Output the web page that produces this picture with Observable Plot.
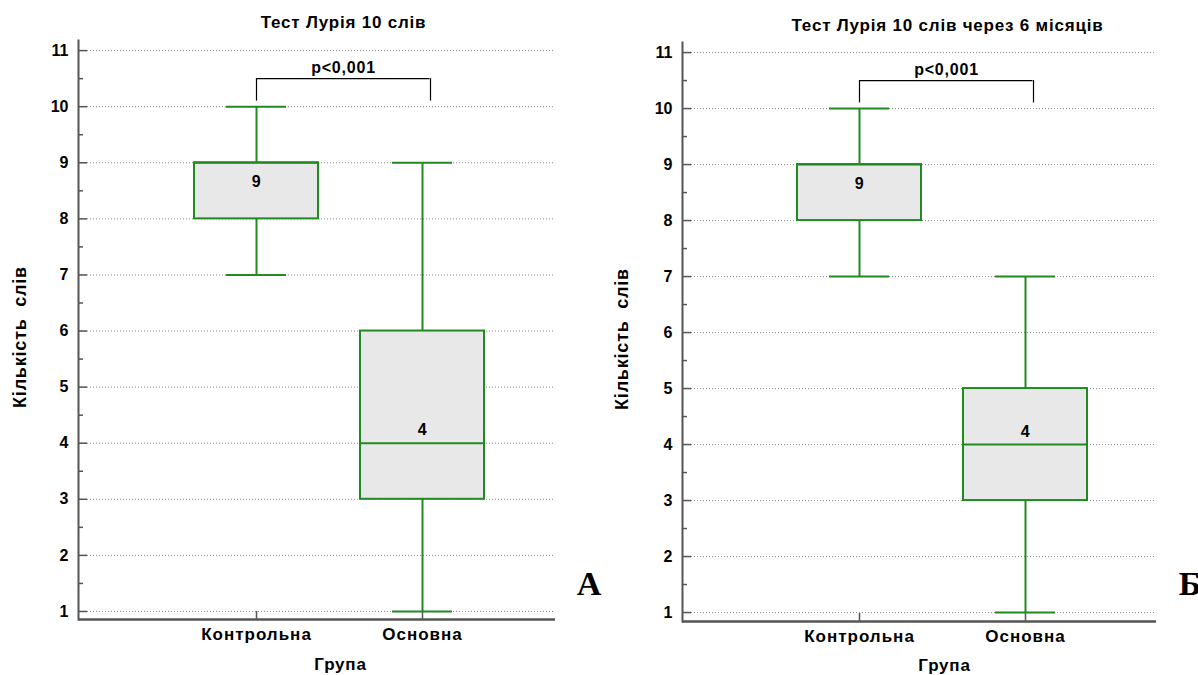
<!DOCTYPE html>
<html>
<head>
<meta charset="utf-8">
<script src="https://cdn.jsdelivr.net/npm/d3@7"></script>
<script src="https://cdn.jsdelivr.net/npm/@observablehq/plot@0.6"></script>
<style>
  html, body { margin: 0; padding: 0; background: #fff; }
  body { width: 1198px; height: 675px; overflow: hidden; position: relative; }
  .panel { position: absolute; top: 0; }
  .panel g[aria-label="text"] text { letter-spacing: 0.8px; }
  .panel g[aria-label="x-axis tick label"] text { letter-spacing: 1px; }
</style>
</head>
<body>
<div id="panelA" class="panel" style="left:0px;width:600px;"></div>
<div id="panelB" class="panel" style="left:600px;width:598px;"></div>
<script>
// ---- data ----
const groups = ["Контрольна", "Основна"];
const titles = ["Тест Лурія 10 слів", "Тест Лурія 10 слів через 6 місяців"];
const panelLetters = ["А", "Б"];
const yLabel = "Кількість\u00a0 слів";
const xLabel = "Група";
const pValueLabel = "p<0,001";
const yTicks = [1, 2, 3, 4, 5, 6, 7, 8, 9, 10, 11];
const yMinorTicks = [1.5, 2.5, 3.5, 4.5, 5.5, 6.5, 7.5, 8.5, 9.5, 10.5];

// panel A (baseline)
const minA = [7, 1];
const q1A = [8, 3];
const medianA = [9, 4];
const q3A = [9, 6];
const maxA = [10, 9];

// panel B (after 6 months)
const minB = [7, 1];
const q1B = [8, 3];
const medianB = [9, 4];
const q3B = [9, 5];
const maxB = [10, 7];

// significance bracket (data units)
const bracketLow = 10.1;
const bracketHigh = 10.5;

// ---- styles ----
const green = "#218a21";
const boxFill = "#e8e8e8";
const axisColor = "#555";
const font = "Arial, 'Liberation Sans', Helvetica, sans-serif";

function rowsFrom(mins, q1s, meds, q3s, maxs) {
  return groups.map((g, i) => ({group: g, min: mins[i], q1: q1s[i], median: meds[i], q3: q3s[i], max: maxs[i]}));
}

function makePanel(cfg) {
  const rows = cfg.rows;
  const bracket = [{from: groups[0], to: groups[1], low: bracketLow, high: bracketHigh}];
  const halfBand = 62.5;
  const rightShift = 8;
  return Plot.plot({
    width: cfg.width,
    height: 675,
    marginLeft: cfg.marginLeft,
    marginRight: cfg.marginRight,
    marginTop: cfg.marginTop,
    marginBottom: cfg.marginBottom,
    style: {fontFamily: font, fontSize: "16px", fontWeight: "bold", color: "#000", background: "transparent", overflow: "visible"},
    x: {type: "band", domain: groups, paddingInner: 0.2515, paddingOuter: cfg.paddingOuter, align: cfg.align},
    y: {domain: cfg.yDomain},
    marks: [
      Plot.gridY(yTicks, {stroke: "#8a8a8a", strokeOpacity: 1, strokeDasharray: "1,2", strokeWidth: 1}),
      Plot.axisY(yTicks, {tickSize: 9, dx: 9, text: null, label: null, stroke: axisColor, strokeWidth: 1.5}),
      Plot.axisY(yMinorTicks, {tickSize: 5, dx: 5, text: null, label: null, stroke: axisColor, strokeWidth: 1.5}),
      Plot.axisY(yTicks, {tickSize: 0, tickPadding: 10, tickFormat: d3.format("d"), label: null, fontSize: 16, fontWeight: "bold", fill: "#000"}),
      Plot.axisX({tickSize: 8, dy: -8, text: null, label: null, stroke: axisColor, strokeWidth: 1.5}),
      Plot.axisX({tickSize: 0, tickPadding: 8, label: null, fontSize: 17, fontWeight: "bold", fill: "#000"}),
      Plot.frame({anchor: "left", stroke: axisColor, strokeWidth: 2}),
      Plot.ruleY([cfg.yDomain[0]], {stroke: axisColor, strokeWidth: 2.5}),
      // whiskers
      Plot.ruleX(rows, {x: "group", y1: "q3", y2: "max", stroke: green, strokeWidth: 2}),
      Plot.ruleX(rows, {x: "group", y1: "min", y2: "q1", stroke: green, strokeWidth: 2}),
      Plot.tickY(rows, {x: "group", y: "max", stroke: green, strokeWidth: 2, insetLeft: 32, insetRight: 32}),
      Plot.tickY(rows, {x: "group", y: "min", stroke: green, strokeWidth: 2, insetLeft: 32, insetRight: 32}),
      // boxes
      Plot.barY(rows, {x: "group", y1: "q1", y2: "q3", fill: boxFill, stroke: green, strokeWidth: 2}),
      Plot.tickY(rows, {x: "group", y: "median", stroke: green, strokeWidth: 2}),
      // median labels
      Plot.text(rows.slice(0, 1), {x: "group", y: "median", text: (d) => String(d.median), dy: 19, fontSize: 16, fill: "#000"}),
      Plot.text(rows.slice(1), {x: "group", y: "median", text: (d) => String(d.median), dy: -13, fontSize: 16, fill: "#000"}),
      // significance bracket
      Plot.ruleX(bracket, {x: "from", y1: "low", y2: "high", stroke: "#000", strokeWidth: 1.2}),
      Plot.ruleX(bracket, {x: "to", y1: "low", y2: "high", stroke: "#000", strokeWidth: 1.2, dx: rightShift}),
      Plot.ruleY(bracket, {y: "high", x1: "from", x2: "to", stroke: "#000", strokeWidth: 1.2, insetLeft: halfBand, insetRight: halfBand - rightShift}),
      Plot.text(bracket, {x: "from", y: "high", text: () => pValueLabel, dx: 87, dy: -11, fontSize: 16, fill: "#000"}),
      // titles and labels
      Plot.text([cfg.title], {text: (d) => d, frameAnchor: "top", lineAnchor: "middle", dx: cfg.titleDx, dy: cfg.titleDy, fontSize: 17, fill: "#000"}),
      Plot.text([xLabel], {text: (d) => d, frameAnchor: "bottom", lineAnchor: "middle", dx: cfg.titleDx - 3, dy: cfg.xLabelDy, fontSize: 17, fill: "#000"}),
      Plot.text([yLabel], {text: (d) => d, frameAnchor: "left", textAnchor: "middle", rotate: -90, dx: cfg.yLabelDx, dy: 7, fontSize: 18, fill: "#000"}),
      Plot.text([cfg.letter], {text: (d) => d, frameAnchor: "bottom-right", textAnchor: "middle", lineAnchor: "middle", dx: 34, dy: cfg.letterDy, fontSize: 34, fontWeight: "bold", fontFamily: "'Times New Roman', 'Liberation Serif', serif", fill: "#000"})
    ]
  });
}

document.getElementById("panelA").appendChild(makePanel({
  rows: rowsFrom(minA, q1A, medianA, q3A, maxA),
  width: 600, marginLeft: 78, marginRight: 45, marginTop: 40, marginBottom: 56,
  yDomain: [0.857, 11.18], paddingOuter: 0.554, align: 0.6216,
  title: titles[0], letter: panelLetters[0], titleDx: 26.5, titleDy: -18, xLabelDy: 45, yLabelDx: -58, letterDy: -35
}));

document.getElementById("panelB").appendChild(makePanel({
  rows: rowsFrom(minB, q1B, medianB, q3B, maxB),
  width: 598, marginLeft: 82, marginRight: 42, marginTop: 42, marginBottom: 54,
  yDomain: [0.84, 11.18], paddingOuter: 0.545, align: 0.626,
  title: titles[1], letter: panelLetters[1], titleDx: 28, titleDy: -17, xLabelDy: 44, yLabelDx: -60, letterDy: -37
}));
</script>
</body>
</html>
